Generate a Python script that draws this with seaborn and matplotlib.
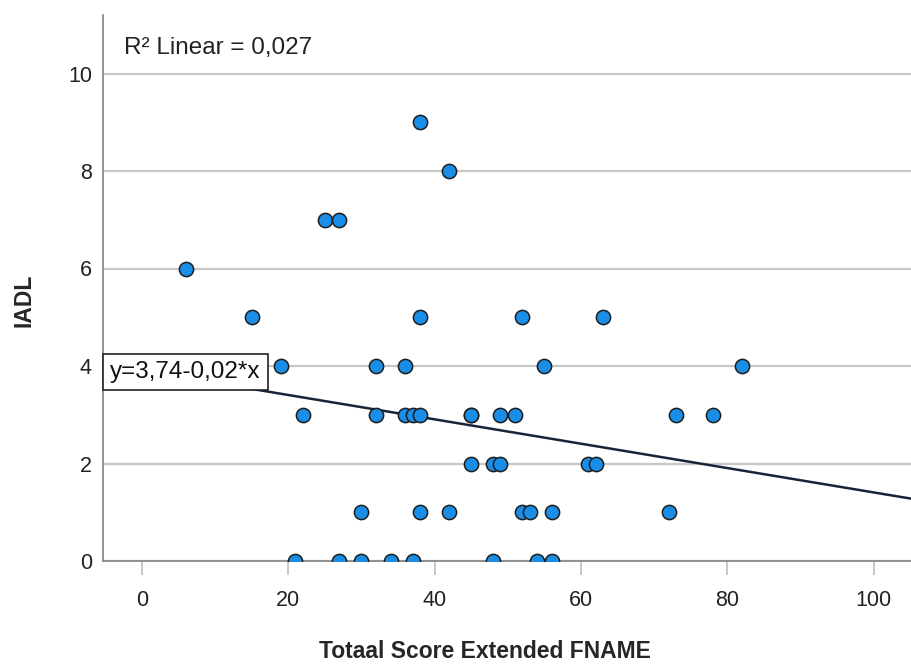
import numpy as np
import pandas as pd
import matplotlib
matplotlib.use("Agg")
import matplotlib.pyplot as plt
import seaborn as sns

# Data
fname_score = [38, 42, 25, 27, 6,
               15, 38, 52, 63,
               19, 32, 36, 55, 82,
               22, 32, 36, 37, 38, 45, 45, 49, 51, 73, 78,
               45, 48, 49, 61, 62,
               30, 38, 42, 52, 53, 56, 72,
               21, 27, 30, 34, 37, 48, 54, 56]
iadl = [9, 8, 7, 7, 6,
        5, 5, 5, 5,
        4, 4, 4, 4, 4,
        3, 3, 3, 3, 3, 3, 3, 3, 3, 3, 3,
        2, 2, 2, 2, 2,
        1, 1, 1, 1, 1, 1, 1,
        0, 0, 0, 0, 0, 0, 0, 0]
x_ticks = [0, 20, 40, 60, 80, 100]
y_ticks = [0, 2, 4, 6, 8, 10]
r2_text = "R² Linear = 0,027"
eq_text = "y=3,74-0,02*x"
x_label = "Totaal Score Extended FNAME"
y_label = "IADL"

df = pd.DataFrame({"x": fname_score, "y": iadl})

sns.set_theme(style="white")
plt.rcParams["font.family"] = ["Liberation Sans", "DejaVu Sans"]

fig = plt.figure(figsize=(9.11, 6.64), dpi=100)
ax = fig.add_axes([103 / 911, (664 - 561) / 664, (911 - 103) / 911, (561 - 15) / 664])

ax.set_xlim(-5.3, 105.1)
ax.set_ylim(0, 11.2)

for yt in y_ticks:
    ax.axhline(yt, color="#c8c8c8", lw=1.6, zorder=0)

sns.regplot(data=df, x="x", y="y", ax=ax, ci=None, truncate=False,
            scatter_kws=dict(s=105, color="#1a8ee6", edgecolors="#1c1c1c",
                             linewidths=1.1, alpha=1, zorder=3, clip_on=True),
            line_kws=dict(color="#16263a", lw=1.8, zorder=2))

ax.set_xticks(x_ticks)
ax.set_yticks(y_ticks)
ax.set_xticklabels([str(t) for t in x_ticks], fontsize=15.5, color="#222222")
ax.set_yticklabels([str(t) for t in y_ticks], fontsize=15.5, color="#222222")
ax.tick_params(axis="x", length=10, width=1.3, color="#c4c4c4", pad=11, bottom=True)
ax.tick_params(axis="y", length=0, pad=8, left=False)

for side in ["top", "right"]:
    ax.spines[side].set_visible(False)
for side in ["left", "bottom"]:
    ax.spines[side].set_color("#8a8a8a")
    ax.spines[side].set_linewidth(1.3)

ax.set_xlabel(x_label, fontsize=16.5, fontweight="bold", va="center")
ax.set_ylabel(y_label, fontsize=16.5, fontweight="bold", va="center")
ax.xaxis.set_label_coords((485 - 103) / 808, (561 - 652) / 546)
ax.yaxis.set_label_coords((24 - 103) / 808, (561 - 300) / 546)

ax.text(0.026, 0.94, r2_text, transform=ax.transAxes, fontsize=17.5,
        color="#222222", va="center", ha="left")
ax.text(0.009, 0.346, eq_text, transform=ax.transAxes, fontsize=17.5,
        color="#111111", va="center", ha="left", zorder=5,
        bbox=dict(boxstyle="square,pad=0.3", fc="white", ec="#222222", lw=1.2))

fig.savefig("out.png", dpi=100)
